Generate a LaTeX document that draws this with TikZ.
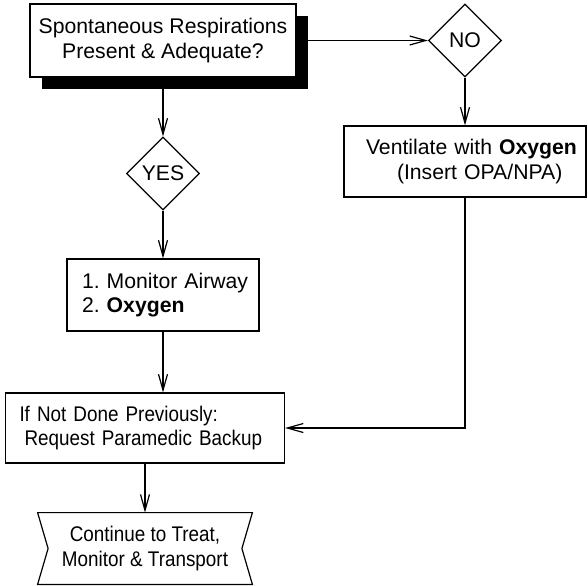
\documentclass[tikz,border=0pt]{standalone}
\usepackage{fontspec}
\setmainfont{Liberation Sans}
\newfontfamily\narrowfont[FakeStretch=0.89]{Liberation Sans}
\usetikzlibrary{positioning,shapes.geometric,shadows,arrows.meta}

\tikzset{
  stepbox/.style={draw,rectangle,fill=white,line width=0.6pt,inner sep=0pt,align=left},
  choice/.style={draw,diamond,fill=white,line width=0.6pt,inner sep=0pt,
    minimum width=36.5pt,minimum height=36.5pt},
  arr/.style={line width=0.6pt,-{Straight Barb[length=8pt,width=4.5pt]}},
  narrow/.style={font=\narrowfont\fontsize{10.6pt}{12.2pt}\selectfont}
}

\begin{document}
\frenchspacing
\begin{tikzpicture}[x=0.5pt,y=-0.5pt,font=\fontsize{10.6pt}{12.2pt}\selectfont]
      \useasboundingbox (0,0) rectangle (588,585);

      \node[stepbox,minimum width=133pt,minimum height=36.5pt,align=center,
        drop shadow={shadow xshift=6pt,shadow yshift=-6pt,fill=black,opacity=1}]
        (resp) at (163,40.5) {Spontaneous Respirations\\Present \& Adequate?};

      \node[choice] (no) at (465,40.5) {NO};
      \node[choice] (yes) at (163,173.5) {YES};

      \node[stepbox,minimum height=35.5pt,text width=121pt]
        (vent) at (465,161.5) {\hspace*{11pt}Ventilate with \textbf{Oxygen}\\\hspace*{26.5pt}(Insert OPA/NPA)};

      \node[stepbox,minimum height=36pt,text width=96pt]
        (monitor) at (163,295) {\hspace*{7.5pt}1. Monitor Airway\\\hspace*{7.5pt}2. \textbf{Oxygen}};

      \node[stepbox,narrow,minimum height=35pt,text width=139.5pt]
        (backup) at (145,428) {\hspace*{7pt}If Not Done Previously:\\\hspace*{9.5pt}Request Paramedic Backup};

      \node[narrow,minimum width=107pt,minimum height=35.5pt,inner sep=0pt,align=center]
        (cont) at (145,548.5) {Continue to Treat,\\Monitor \& Transport};
      \draw[line width=0.6pt] (cont.north west) -- (cont.north east)
        -- ([xshift=-5.25pt]cont.east) -- (cont.south east) -- (cont.south west)
        -- ([xshift=5.25pt]cont.west) -- cycle;

      \draw[arr] (resp) -- (no);
      \draw[arr] (resp) -- (yes);
      \draw[arr] (no) -- (vent);
      \draw[arr] (yes) -- (monitor);
      \draw[arr] (monitor) -- (monitor |- backup.north);
      \draw[arr] (vent) |- (backup);
      \draw[arr] (backup) -- (cont);
    \end{tikzpicture}
\end{document}
